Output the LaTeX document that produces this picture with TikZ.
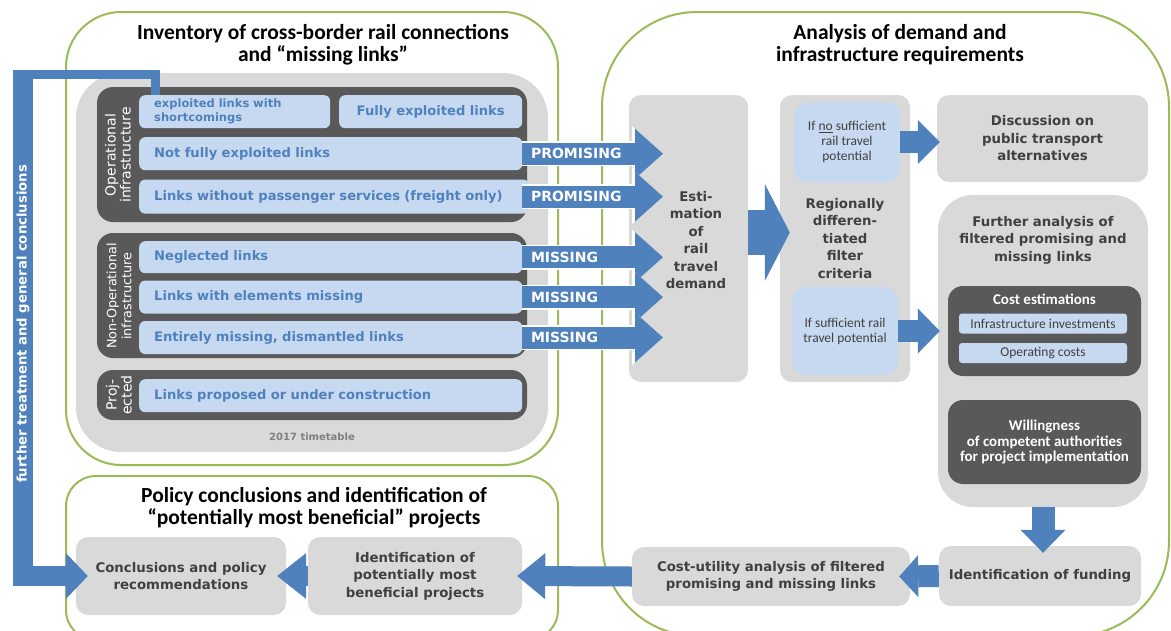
\documentclass[tikz,border=0pt]{standalone}
\usepackage{fontspec}
\setmainfont{DejaVu Sans}
\newfontfamily\calfont{Carlito}
\usetikzlibrary{arrows.meta,positioning}

\definecolor{frame}{HTML}{9BBB59}
\definecolor{lgray}{HTML}{D9D9D9}
\definecolor{dgray}{HTML}{595959}
\definecolor{lblue}{HTML}{C6D9F1}
\definecolor{mblue}{HTML}{4F81BD}
\definecolor{txt}{HTML}{404040}

\tikzset{
  panel/.style={draw=frame, line width=2pt, rounded corners=#1},
  title/.style={font=\calfont\bfseries\fontsize{21.5}{22}\selectfont, align=center},
  grouplabel/.style={text=white, rotate=90, align=center, font=\fontsize{#1}{15}\selectfont},
  link/.style={fill=lblue, rounded corners=6pt, text=mblue, anchor=north west,
    inner xsep=15pt, text width=#1, align=left, font=\bfseries\fontsize{13.1}{15}\selectfont},
  boldtxt/.style={text=txt, align=center, font=\bfseries\fontsize{13.3}{17.5}\selectfont},
  stage/.style={boldtxt, fill=lgray, rounded corners=12pt, inner sep=0pt},
  cond/.style={fill=lblue, rounded corners=14pt, text=txt, align=center, inner sep=0pt,
    font=\calfont\fontsize{13.5}{15}\selectfont},
  costitem/.style={fill=lblue, rounded corners=3pt, text=txt, inner sep=0pt,
    font=\calfont\fontsize{13.5}{15}\selectfont, minimum width=168pt, minimum height=20pt},
  darknote/.style={fill=dgray, rounded corners=15pt, text=white, align=center, inner sep=0pt,
    font=\calfont\bfseries\fontsize{15}{15.5}\selectfont},
  fat/.style n args={3}{draw=mblue, line width=#1, -{Triangle[line width=0pt, length=#2, width=#3]}},
  rim/.style n args={3}{draw=white, line width=#1, -{Triangle[line width=0pt, length=#2, width=#3]}},
  flag/.style={text=white, anchor=west, inner sep=9pt, outer sep=0pt,
    font=\bfseries\fontsize{14}{14}\selectfont},
}

\begin{document}
\begin{tikzpicture}[x=1pt, y=-1pt]
  \useasboundingbox (0,0) rectangle (1171,630);
  \fill[white] (0,0) rectangle (1171,630);

  % the three stages
  \draw[panel=55pt] (66,12) rectangle (558,465);
  \draw[panel=95pt] (602,12) rectangle (1169,636);
  \draw[panel=30pt] (66,476) rectangle (558,640);

  \node[title] (tinv) at (323,45) {Inventory of cross-border rail connections\\and “missing links”};
  \node[title] (tana) at (900,45) {Analysis of demand and\\infrastructure requirements};
  \node[title] (tpol) at (314,508) {Policy conclusions and identification of\\“potentially most beneficial” projects};

  % inventory
  \fill[lgray, rounded corners=45pt] (76,73) rectangle (548,452);
  \node[text=gray, font=\bfseries\fontsize{10}{10}\selectfont] (ttab) at (312,437) {2017 timetable};

  \fill[dgray, rounded corners=16pt] (97,87) rectangle (527,222);
  \fill[dgray, rounded corners=16pt] (97,233) rectangle (527,358);
  \fill[dgray, rounded corners=16pt] (97,370) rectangle (527,420);

  \node[grouplabel=14] (lop) at (118,155) {Operational\\infrastructure};
  \node[grouplabel=12.8] (lnop) at (119,296) {Non-Operational\\infrastructure};
  \node[grouplabel=14] (lproj) at (119,395) {Proj-\\ected};

  \node[link=161pt, minimum height=33pt, inner ysep=1pt,
    font=\bfseries\fontsize{11.5}{14}\selectfont] (exs) at (139,95) {exploited links with\\shortcomings};
  \node[link=153pt, align=center, minimum height=33pt] (fe) at (339,95) {Fully exploited links};
  \node[link=353pt, minimum height=33pt] (nfe) at (139,137) {Not fully exploited links};
  \node[link=360pt, minimum height=34pt, below=9pt of nfe.south west, anchor=north west] (wps)
    {Links without passenger services (freight only)};
  \node[link=353pt, minimum height=32pt] (neg) at (139,241) {Neglected links};
  \node[link=353pt, minimum height=33pt, below=7pt of neg.south west, anchor=north west] (elm)
    {Links with elements missing};
  \node[link=353pt, minimum height=33pt, below=7pt of elm.south west, anchor=north west] (ent)
    {Entirely missing, dismantled links};
  \node[link=353pt, minimum height=33pt] (prop) at (139,379) {Links proposed or under construction};

  % analysis
  \node[stage, minimum width=119pt, minimum height=287pt] (est) at (688.5,238.5) {};
  \node[boldtxt] (esttxt) at (696,240) {Esti-\\mation\\of\\rail\\travel\\demand};

  \coordinate (tipx) at (663,0);
  \coordinate (tailx) at (522,0);
  \foreach \src/\lab in {nfe/PROMISING, wps/PROMISING, neg/MISSING, elm/MISSING, ent/MISSING} {
    \draw[rim={25pt}{31pt}{55pt}] (\src.east -| tailx) -- (\src.east -| tipx);
    \draw[fat={22pt}{28pt}{50pt}] (\src.east -| tailx) -- (\src.east -| tipx) node[flag, pos=0] {\lab};
  }

  \node[stage, minimum width=130pt, minimum height=287pt] (flt) at (845,238.5)
    {Regionally\\differen-\\tiated\\filter\\criteria};
  \node[cond, minimum width=106pt, minimum height=80pt] (ns) at (847,142)
    {If \underline{no} sufficient\\rail travel\\potential};
  \node[cond, minimum width=106pt, minimum height=88pt] (suf) at (845,331)
    {If sufficient rail\\travel potential};

  \node[stage, minimum width=211pt, minimum height=87pt] (disc) at (1042.5,138.5)
    {Discussion on\\public transport\\alternatives};
  \node[stage, rounded corners=35pt, minimum width=210pt, minimum height=312pt] (fa) at (1043,351) {};
  \node[boldtxt] (fatxt) at (1043,240) {Further analysis of\\filtered promising and\\missing links};
  \node[fill=dgray, rounded corners=15pt, minimum width=193pt, minimum height=90pt] (cost) at (1044.5,331) {};
  \node[text=white, font=\calfont\bfseries\fontsize{15}{15}\selectfont] (costtxt) at (1044.5,299) {Cost estimations};
  \node[costitem] (inv) at (1043,323.5) {Infrastructure investments};
  \node[costitem] (opc) at (1043,353) {Operating costs};
  \node[darknote, minimum width=193pt, minimum height=84pt] (will) at (1044.5,442)
    {Willingness\\of competent authorities\\for project implementation};

  \node[stage, minimum width=202pt, minimum height=60pt] (fund) at (1040,576) {Identification of funding};
  \node[stage, minimum width=278pt, minimum height=59pt] (cu) at (771,576.5)
    {Cost-utility analysis of filtered\\promising and missing links};

  % policy conclusions
  \node[stage, minimum width=214pt, minimum height=78pt] (ident) at (415,576)
    {Identification of\\potentially most\\beneficial projects};
  \node[stage, minimum width=210pt, minimum height=78pt] (conc) at (181,576)
    {Conclusions and policy\\recommendations};

  % flow
  \draw[fat={45pt}{25pt}{97pt}] ([yshift=6pt]est.east) -- ([yshift=6pt, xshift=10pt]flt.west);
  \draw[fat={22pt}{22pt}{44pt}] (ns.east) -- ([xshift=3pt]disc.west |- ns.east);
  \draw[fat={22pt}{22pt}{45pt}] (suf.east) -- ([xshift=2pt]fa.west |- suf.east);
  \draw[fat={23pt}{23pt}{45pt}] (fa.south) -- ([yshift=-7pt]fa.south |- fund.north);
  \draw[fat={22pt}{19pt}{42pt}] (fund.west) -- ([xshift=-11pt]cu.east);
  \draw[fat={20pt}{28pt}{46pt}] (cu.west) -- ([xshift=-5pt]ident.east);
  \draw[fat={20pt}{29pt}{46pt}] (ident.west) -- ([xshift=-9pt]conc.east);

  % feedback loop
  \coordinate (fbtop) at (23,70);
  \draw[mblue, line width=9pt] ([xshift=16pt]exs.north west) |- ([yshift=-4.5pt]fbtop);
  \draw[fat={20pt}{22pt}{46pt}] (fbtop) |- ([xshift=12pt]conc.west);
  \node[text=white, rotate=90, font=\bfseries\fontsize{13.2}{14}\selectfont] (fbtxt) at (23,324)
    {further treatment and general conclusions};

\end{tikzpicture}
\end{document}
